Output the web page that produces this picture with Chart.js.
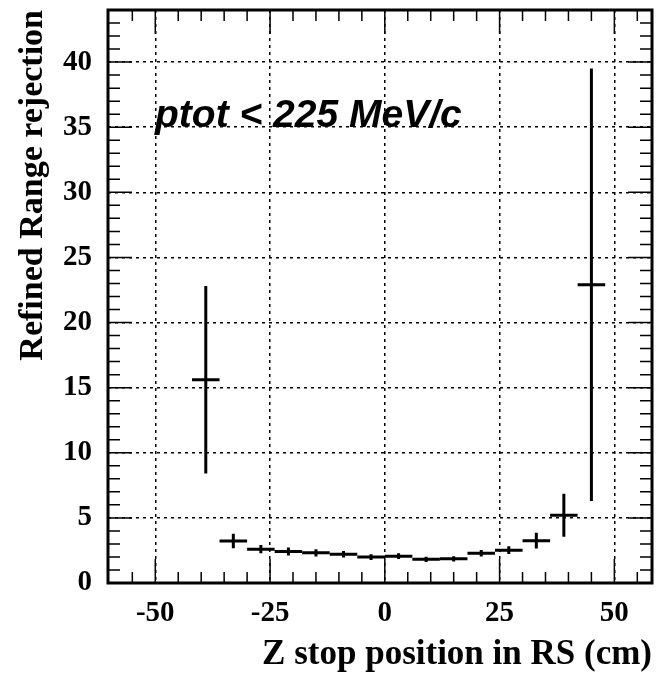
<!DOCTYPE html>
<html>
<head>
<meta charset="utf-8">
<script src="https://cdn.jsdelivr.net/npm/chart.js@4.4.1/dist/chart.umd.min.js"></script>
<style>
  html, body { margin: 0; padding: 0; background: #fff; }
  canvas { display: block; }
</style>
</head>
<body>
<canvas id="rejChart" width="659" height="680"></canvas>
<script>
// bin centres in cm (bins are 6 cm wide)
const zCentres = [-39, -33, -27, -21, -15, -9, -3, 3, 9, 15, 21, 27, 33, 39, 45];
const rejection = [15.6, 3.22, 2.6, 2.42, 2.32, 2.2, 1.99, 2.06, 1.82, 1.86, 2.28, 2.52, 3.25, 5.2, 22.9];
const rejectionErr = [7.2, 0.56, 0.32, 0.3, 0.28, 0.25, 0.22, 0.22, 0.2, 0.2, 0.25, 0.3, 0.6, 1.65, 16.6];
const binHalfWidth = 3;

const xTickValues = [-50, -25, 0, 25, 50];
const xTickLabels = ['-50', '-25', '0', '25', '50'];
const yTickValues = [0, 5, 10, 15, 20, 25, 30, 35, 40];
const yTickLabels = ['0', '5', '10', '15', '20', '25', '30', '35', '40'];

const serif = '"Liberation Serif", "Times New Roman", serif';

// error bars: horizontal = bin width, vertical = error
const errorBars = {
    id: 'errorBars',
    afterDatasetsDraw(chart) {
        const { ctx, scales: { x, y } } = chart;
        ctx.save();
        ctx.strokeStyle = '#000';
        ctx.lineWidth = 3;
        ctx.lineCap = 'butt';
        zCentres.forEach((z, i) => {
            const px = x.getPixelForValue(z);
            const py = y.getPixelForValue(rejection[i]);
            ctx.beginPath();
            ctx.moveTo(x.getPixelForValue(z - binHalfWidth), py);
            ctx.lineTo(x.getPixelForValue(z + binHalfWidth), py);
            ctx.moveTo(px, y.getPixelForValue(rejection[i] - rejectionErr[i]));
            ctx.lineTo(px, y.getPixelForValue(rejection[i] + rejectionErr[i]));
            ctx.stroke();
        });
        ctx.restore();
    }
};

// ROOT style frame with inward ticks + text label
const frame = {
    id: 'frame',
    afterDraw(chart) {
        const { ctx, chartArea: a, scales: { x, y } } = chart;
        ctx.save();
        ctx.strokeStyle = '#000';
        ctx.lineWidth = 1.5;
        ctx.beginPath();
        for (let v = -55; v <= 55; v += 5) {
            const px = x.getPixelForValue(v);
            const len = v % 25 === 0 ? 24 : 11;
            ctx.moveTo(px, a.bottom); ctx.lineTo(px, a.bottom - len);
            ctx.moveTo(px, a.top); ctx.lineTo(px, a.top + len);
        }
        for (let v = 1; v <= 43; v++) {
            const py = y.getPixelForValue(v);
            const len = v % 5 === 0 ? 24 : 12;
            ctx.moveTo(a.left, py); ctx.lineTo(a.left + len, py);
            ctx.moveTo(a.right, py); ctx.lineTo(a.right - len, py);
        }
        ctx.stroke();

        ctx.lineWidth = 3;
        ctx.strokeRect(a.left, a.top, a.right - a.left, a.bottom - a.top);

        ctx.fillStyle = '#000';
        ctx.font = 'italic bold 39px "Liberation Sans", Arial, sans-serif';
        ctx.textBaseline = 'alphabetic';
        ctx.fillText('ptot < 225 MeV/c', a.left + 47, a.top + 117);
        ctx.restore();
    }
};

const canvas = document.getElementById('rejChart');
new Chart(canvas.getContext('2d'), {
    type: 'scatter',
    data: {
        datasets: [{
            data: zCentres.map((z, i) => ({ x: z, y: rejection[i] })),
            pointRadius: 0,
            showLine: false
        }]
    },
    options: {
        responsive: false,
        animation: false,
        layout: { padding: { top: 10, right: 7, left: 0, bottom: 0 } },
        plugins: { legend: { display: false }, tooltip: { enabled: false } },
        scales: {
            x: {
                type: 'linear',
                min: -60.3,
                max: 58.2,
                afterBuildTicks: s => { s.ticks = xTickValues.map(v => ({ value: v })); },
                afterFit: s => { s.height = 97; s.paddingLeft = 0; s.paddingRight = 0; },
                grid: { color: '#000', lineWidth: 1.5, drawTicks: false },
                border: { display: false, dash: [3, 4] },
                ticks: {
                    padding: 13,
                    color: '#000',
                    font: { family: serif, size: 29, weight: 'bold' },
                    callback: (v) => xTickLabels[xTickValues.indexOf(v)]
                },
                title: {
                    display: true,
                    text: 'Z stop position in RS (cm)',
                    align: 'end',
                    color: '#000',
                    font: { family: serif, size: 35, weight: 'bold', lineHeight: 1.2 },
                    padding: { top: 0, bottom: 4 }
                }
            },
            y: {
                type: 'linear',
                min: 0,
                max: 44,
                afterBuildTicks: s => { s.ticks = yTickValues.map(v => ({ value: v })); },
                afterFit: s => { s.width = 108; s.paddingTop = 0; s.paddingBottom = 0; },
                grid: { color: '#000', lineWidth: 1.5, drawTicks: false },
                border: { display: false, dash: [3, 4] },
                ticks: {
                    padding: 16,
                    color: '#000',
                    font: { family: serif, size: 29, weight: 'bold' },
                    callback: (v) => yTickLabels[yTickValues.indexOf(v)]
                },
                title: {
                    display: true,
                    text: 'Refined Range rejection',
                    align: 'end',
                    color: '#000',
                    font: { family: serif, size: 34, weight: 'bold', lineHeight: 1.2 },
                    padding: { top: 13, bottom: 0 }
                }
            }
        }
    },
    plugins: [errorBars, frame]
});
</script>
</body>
</html>
